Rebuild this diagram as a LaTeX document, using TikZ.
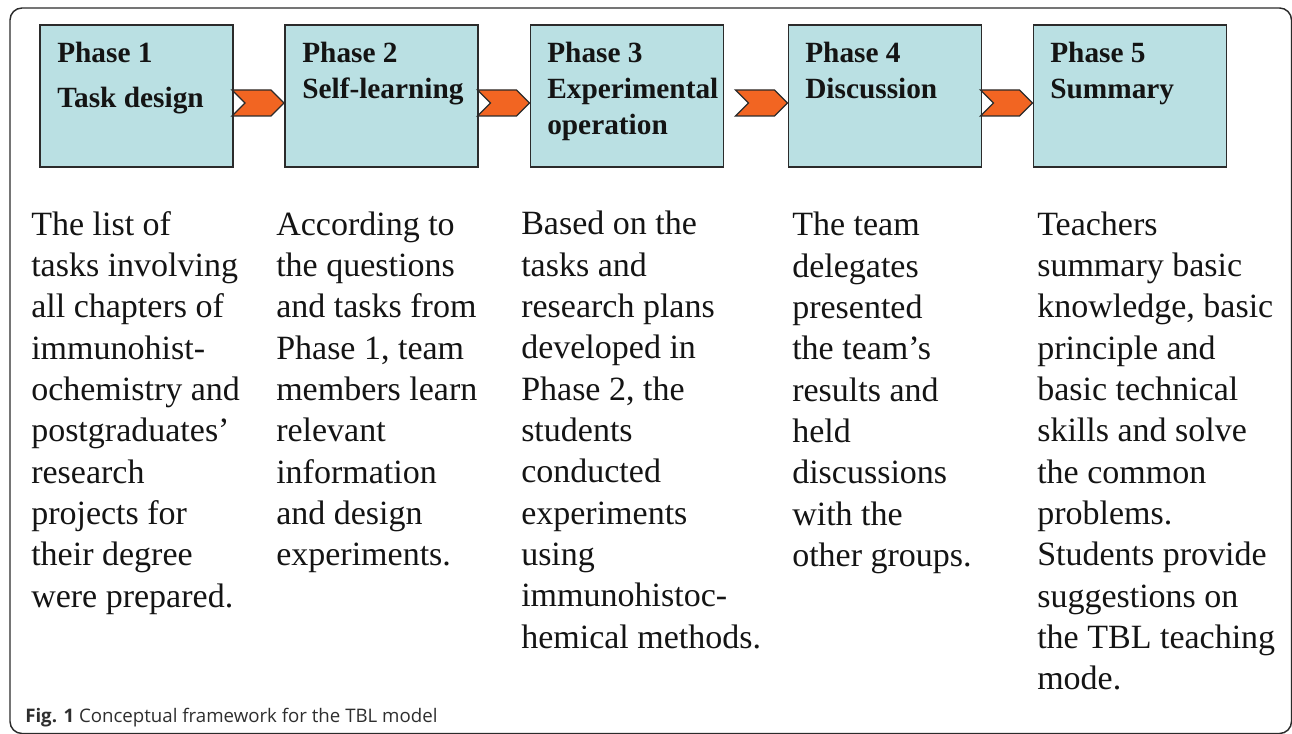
\documentclass[tikz,border=0pt]{standalone}
\usepackage{fontspec}
\setmainfont{Liberation Serif}
\newfontfamily\capfont{Open Sans}
\usetikzlibrary{calc}
\definecolor{boxfill}{HTML}{BAE0E3}
\definecolor{chevfill}{HTML}{F26522}
\definecolor{edge}{HTML}{2B2B2B}
\definecolor{ink}{HTML}{141414}
\definecolor{capink}{HTML}{2E2E2E}
\begin{document}
% Multi-line nodes below are placed by the baseline of their last line.
\begin{tikzpicture}[x=0.75pt,y=-0.75pt,
  phasebox/.style={draw=edge,fill=boxfill,line width=1.2pt,
    minimum width=145pt,minimum height=106.5pt,inner sep=0pt},
  headtxt/.style={anchor=base west,inner sep=0pt,align=left,text=ink,
    font=\bfseries\fontsize{22}{27}\selectfont},
  bodytxt/.style={anchor=base west,inner sep=0pt,align=left,text=ink,
    font=\fontsize{25.5}{31}\selectfont},
  chev/.style={draw=edge,fill=chevfill,line width=1pt,line join=miter},
  pics/chevron/.style={code={
    \draw[chev] (0,0) -- (39,0) -- (52,13) -- (39,26) -- (0,26) -- (13,13) -- cycle;}}]

\useasboundingbox (0,0) rectangle (1292,734);

% outer frame of the figure
\draw[edge,line width=1.1pt,rounded corners=9pt] (10,8) rectangle (1291.5,733.5);

% phase boxes
\node[phasebox] (p1) at (136.5,96) {};
\node[phasebox] (p2) at (381.5,96) {};
\node[phasebox] (p3) at (627,96) {};
\node[phasebox] (p4) at (885,96) {};
\node[phasebox] (p5) at (1130,96) {};

% chevrons leading into each following phase
\pic at ($(p2.west)+(-52,-6)$) {chevron};
\pic at ($(p3.west)+(-52,-6)$) {chevron};
\pic at ($(p4.west)+(-52,-6)$) {chevron};
\pic at ($(p5.west)+(-52,-6)$) {chevron};

% phase titles
\node[headtxt,font=\bfseries\fontsize{22}{33.75}\selectfont] (h1) at (57,108) {Phase 1\\Task design};
\node[headtxt] (h2) at (302,99) {Phase 2\\Self-learning};
\node[headtxt] (h3) at (547,135) {Phase 3\\Experimental\\operation};
\node[headtxt] (h4) at (805,99) {Phase 4\\Discussion};
\node[headtxt] (h5) at (1050,99) {Phase 5\\Summary};

% phase descriptions
\node[bodytxt] (d1) at (31,607) {The list of\\tasks involving\\all chapters of\\immunohist-\\ochemistry and\\postgraduates’\\research\\projects for\\their degree\\were prepared.};
\node[bodytxt] (d2) at (276,565.7) {According to\\the questions\\and tasks from\\Phase 1, team\\members learn\\relevant\\information\\and design\\experiments.};
\node[bodytxt] (d3) at (521,648.3) {Based on the\\tasks and\\research plans\\developed in\\Phase 2, the\\students\\conducted\\experiments\\using\\immunohistoc-\\hemical methods.};
\node[bodytxt] (d4) at (792,566.5) {The team\\delegates\\presented\\the team’s\\results and\\held\\discussions\\with the\\other groups.};
\node[bodytxt] (d5) at (1037,689.7) {Teachers\\summary basic\\knowledge, basic\\principle and\\basic technical\\skills and solve\\the common\\problems.\\Students provide\\suggestions on\\the TBL teaching\\mode.};

% caption
\node[anchor=base west,inner sep=0pt,text=capink,font=\capfont\fontsize{14}{16}\selectfont] (cap) at (25,722)
  {\textbf{Fig. 1} Conceptual framework for the TBL model};
\end{tikzpicture}
\end{document}
